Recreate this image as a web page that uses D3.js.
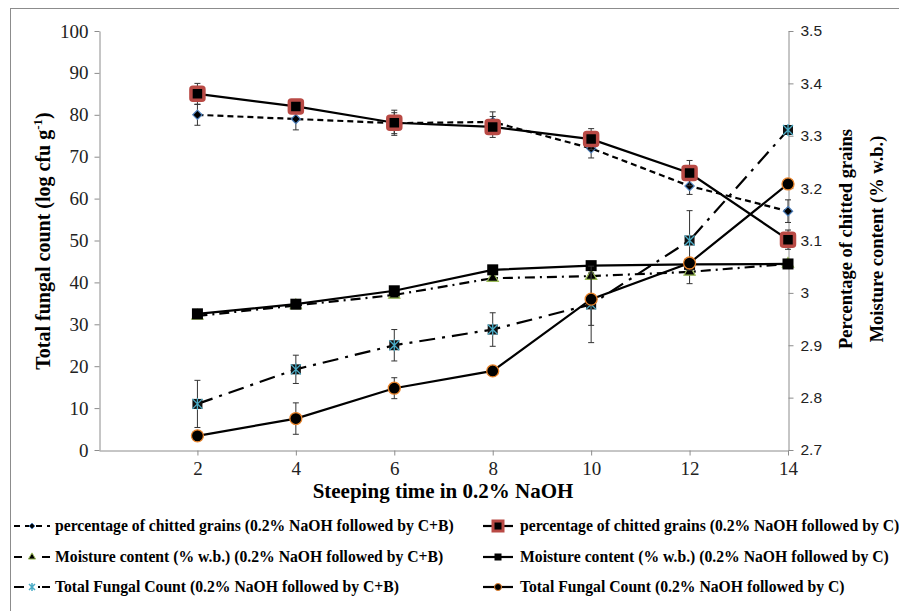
<!DOCTYPE html>
<html>
<head>
<meta charset="utf-8">
<script src="https://cdnjs.cloudflare.com/ajax/libs/d3/7.8.5/d3.min.js"></script>
<style>
  body { margin: 0; background: #fff; }
  svg { display: block; }
</style>
</head>
<body>
<svg id="chart" width="899" height="611"></svg>
<script>
// steeping time (h)
var times = [2, 4, 6, 8, 10, 12, 14];

// left axis series
var chitCB = [80, 79, 78, 78.3, 72, 63, 57];
var chitCBerr = [2.5, 2.6, 2.5, 2.4, 2.3, 2, 2.7];
var chitC = [85, 82, 78.1, 77.1, 74.2, 66.1, 50.2];
var chitCerr = [2.5, 1, 3, 2.5, 2.5, 3, 2.3];
var moistCB = [32, 34.5, 37, 41, 41.5, 42.5, 44.4];
var moistCBerr = [0, 0, 0, 0, 0, 2.8, 0];
var moistC = [32.5, 34.8, 38, 43, 44, 44.3, 44.4];
var moistCerr = [0, 0, 0, 0, 0, 0, 0];

// right axis series
var tfcCB = [2.788, 2.854, 2.90, 2.93, 2.978, 3.10, 3.311];
var tfcCBerr = [0.045, 0.027, 0.03, 0.032, 0.073, 0.057, 0];
var tfcC = [2.727, 2.76, 2.818, 2.851, 2.988, 3.057, 3.208];
var tfcCerr = [0, 0.03, 0.02, 0, 0.05, 0, 0];

var leftTicks = [0, 10, 20, 30, 40, 50, 60, 70, 80, 90, 100];
var rightTicks = [2.7, 2.8, 2.9, 3, 3.1, 3.2, 3.3, 3.4, 3.5];
var xTicks = [2, 4, 6, 8, 10, 12, 14];

var svg = d3.select("#chart");
var serif = "'Liberation Serif', 'Times New Roman', serif";
var sans = "'Liberation Sans', Arial, sans-serif";

// outer chart frame (cropped on the right and bottom)
svg.append("rect").attr("x", 10.5).attr("y", 8.5).attr("width", 1000).attr("height", 800)
    .attr("fill", "none").attr("stroke", "#8c8c8c").attr("stroke-width", 1);

var x = d3.scaleLinear().domain([0, 14]).range([99, 788]);
var yL = d3.scaleLinear().domain([0, 100]).range([450, 31]);
var yR = d3.scaleLinear().domain([2.7, 3.5]).range([450, 31]);

// axes
var axL = svg.append("g").attr("transform", "translate(99.5,0)")
    .call(d3.axisLeft(yL).tickValues(leftTicks).tickSize(5).tickSizeOuter(0));
var axR = svg.append("g").attr("transform", "translate(788.5,0)")
    .call(d3.axisRight(yR).tickValues(rightTicks).tickSize(5).tickSizeOuter(0)
        .tickFormat(function(d){ return d3.format("")(Math.round(d*10)/10); }));
var axX = svg.append("g").attr("transform", "translate(0,450.5)")
    .call(d3.axisBottom(x).tickValues(xTicks).tickSize(5).tickSizeOuter(0));

[axL, axR, axX].forEach(function(a){
    a.selectAll("path, line").attr("stroke", "#8c8c8c");
});
axL.selectAll("text").attr("font-family", serif).attr("font-size", "19px").attr("fill", "#222").attr("dx", "-3");
axX.selectAll("text").attr("font-family", serif).attr("font-size", "19px").attr("fill", "#222").attr("dy", "0.85em");
axR.selectAll("text").attr("font-family", sans).attr("font-size", "15.5px").attr("fill", "#222").attr("dx", "4");

// axis titles
svg.append("text").attr("x", 443).attr("y", 498).attr("text-anchor", "middle")
    .attr("font-family", serif).attr("font-weight", "bold").attr("font-size", "21px")
    .text("Steeping time in 0.2% NaOH");

var lt = svg.append("text").attr("transform", "translate(50,241) rotate(-90)")
    .attr("text-anchor", "middle").attr("font-family", serif).attr("font-weight", "bold")
    .attr("font-size", "20px");
lt.append("tspan").text("Total fungal count (log cfu g");
lt.append("tspan").attr("dy", "-8").attr("font-size", "13px").text("-1");
lt.append("tspan").attr("dy", "8").text(")");

svg.append("text").attr("transform", "translate(852,239) rotate(-90)")
    .attr("text-anchor", "middle").attr("font-family", serif).attr("font-weight", "bold")
    .attr("font-size", "18.5px").text("Percentage of chitted grains");
svg.append("text").attr("transform", "translate(883,239) rotate(-90)")
    .attr("text-anchor", "middle").attr("font-family", serif).attr("font-weight", "bold")
    .attr("font-size", "18.5px").text("Moisture content (% w.b.)");

// marker drawing
function drawMarker(g, type, cx, cy) {
    if (type == "diamond") {
        g.append("path").attr("d", d3.symbol(d3.symbolDiamond2, 55)())
            .attr("transform", "translate(" + cx + "," + cy + ")")
            .attr("fill", "#000").attr("stroke", "#4f81bd").attr("stroke-width", 1.2);
    } else if (type == "redsquare") {
        g.append("rect").attr("x", cx - 6.5).attr("y", cy - 6.5).attr("width", 13).attr("height", 13)
            .attr("rx", 2).attr("fill", "#000").attr("stroke", "#b94a45").attr("stroke-width", 3.5);
    } else if (type == "square") {
        g.append("rect").attr("x", cx - 5.5).attr("y", cy - 5.5).attr("width", 11).attr("height", 11)
            .attr("fill", "#000");
    } else if (type == "triangle") {
        g.append("path").attr("d", d3.symbol(d3.symbolTriangle, 55)())
            .attr("transform", "translate(" + cx + "," + cy + ")")
            .attr("fill", "#000").attr("stroke", "#9bbb59").attr("stroke-width", 1.2);
    } else if (type == "star") {
        g.append("rect").attr("x", cx - 5).attr("y", cy - 5).attr("width", 10).attr("height", 10)
            .attr("fill", "#111");
        g.append("path").attr("d", "M" + (cx-5) + "," + (cy-5) + "L" + (cx+5) + "," + (cy+5) +
            "M" + (cx+5) + "," + (cy-5) + "L" + (cx-5) + "," + (cy+5) +
            "M" + cx + "," + (cy-6) + "L" + cx + "," + (cy+6))
            .attr("stroke", "#4bacc6").attr("stroke-width", 1.3);
    } else if (type == "circle") {
        g.append("circle").attr("cx", cx).attr("cy", cy).attr("r", 6)
            .attr("fill", "#000").attr("stroke", "#e8832a").attr("stroke-width", 1.3);
    }
}

var series = [
    {name: "percentage of chitted grains (0.2% NaOH followed by C+B)", vals: chitCB, err: chitCBerr, y: yL, dash: "6,4", marker: "diamond"},
    {name: "percentage of chitted grains (0.2% NaOH followed by C)", vals: chitC, err: chitCerr, y: yL, dash: null, marker: "redsquare"},
    {name: "Moisture content (% w.b.) (0.2% NaOH followed by C+B)", vals: moistCB, err: moistCBerr, y: yL, dash: "10,5,2,5", marker: "triangle"},
    {name: "Moisture content (% w.b.) (0.2% NaOH followed by C)", vals: moistC, err: moistCerr, y: yL, dash: null, marker: "square"},
    {name: "Total Fungal Count (0.2% NaOH followed by C+B)", vals: tfcCB, err: tfcCBerr, y: yR, dash: "16,7,3,7", marker: "star"},
    {name: "Total Fungal Count (0.2% NaOH followed by C)", vals: tfcC, err: tfcCerr, y: yR, dash: null, marker: "circle"}
];

var plot = svg.append("g");

series.forEach(function(s){
    var g = plot.append("g");
    var pts = times.map(function(t, i){ return {t: t, v: s.vals[i], e: s.err[i]}; });

    // error bars
    pts.forEach(function(p){
        if (!p.e) return;
        var px = x(p.t), y1 = s.y(p.v + p.e), y2 = s.y(p.v - p.e);
        g.append("line").attr("x1", px).attr("x2", px).attr("y1", y1).attr("y2", y2)
            .attr("stroke", "#333").attr("stroke-width", 1);
        [y1, y2].forEach(function(yy){
            g.append("line").attr("x1", px - 3).attr("x2", px + 3).attr("y1", yy).attr("y2", yy)
                .attr("stroke", "#333").attr("stroke-width", 1);
        });
    });

    var line = d3.line().x(function(d){ return x(d.t); }).y(function(d){ return s.y(d.v); });
    g.append("path").datum(pts).attr("d", line).attr("fill", "none")
        .attr("stroke", "#000").attr("stroke-width", 2.2)
        .attr("stroke-dasharray", s.dash);

    pts.forEach(function(p){ drawMarker(g, s.marker, x(p.t), s.y(p.v)); });
});

// legend
var legX = [14, 483], legTextX = [55, 520], legY = [526, 557, 587];
series.forEach(function(s, i){
    var col = i % 2, row = Math.floor(i / 2);
    var g = svg.append("g");
    var lx = legX[col], ly = legY[row];
    var w = col == 0 ? 36 : 30;
    g.append("line").attr("x1", lx).attr("x2", lx + w).attr("y1", ly).attr("y2", ly)
        .attr("stroke", "#000").attr("stroke-width", 2.2)
        .attr("stroke-dasharray", col == 0 ? (row == 0 ? "6,5" : (row == 1 ? "8,20" : "10,14,2,2")) : null);
    var mx = lx + w / 2;
    if (s.marker == "redsquare") {
        g.append("rect").attr("x", mx - 5).attr("y", ly - 5).attr("width", 10).attr("height", 10)
            .attr("fill", "#000").attr("stroke", "#b94a45").attr("stroke-width", 3);
    } else if (s.marker == "star") {
        g.append("path").attr("d", "M" + (mx-3) + "," + (ly-3) + "L" + (mx+3) + "," + (ly+3) +
            "M" + (mx+3) + "," + (ly-3) + "L" + (mx-3) + "," + (ly+3) + "M" + mx + "," + (ly-4) + "L" + mx + "," + (ly+4))
            .attr("stroke", "#4bacc6").attr("stroke-width", 1.5);
    } else if (s.marker == "circle") {
        g.append("circle").attr("cx", mx).attr("cy", ly).attr("r", 3.5)
            .attr("fill", "#000").attr("stroke", "#e8832a").attr("stroke-width", 1);
    } else if (s.marker == "square") {
        g.append("rect").attr("x", mx - 3.5).attr("y", ly - 3.5).attr("width", 7).attr("height", 7).attr("fill", "#000");
    } else if (s.marker == "diamond") {
        g.append("path").attr("d", d3.symbol(d3.symbolDiamond2, 22)())
            .attr("transform", "translate(" + mx + "," + ly + ")")
            .attr("fill", "#000").attr("stroke", "#4f81bd").attr("stroke-width", 1);
    } else if (s.marker == "triangle") {
        g.append("path").attr("d", d3.symbol(d3.symbolTriangle, 22)())
            .attr("transform", "translate(" + mx + "," + ly + ")")
            .attr("fill", "#000").attr("stroke", "#9bbb59").attr("stroke-width", 1);
    }
    g.append("text").attr("x", legTextX[col]).attr("y", ly + 5)
        .attr("font-family", serif).attr("font-weight", "bold").attr("font-size", "15.7px")
        .text(s.name);
});
</script>
</body>
</html>
